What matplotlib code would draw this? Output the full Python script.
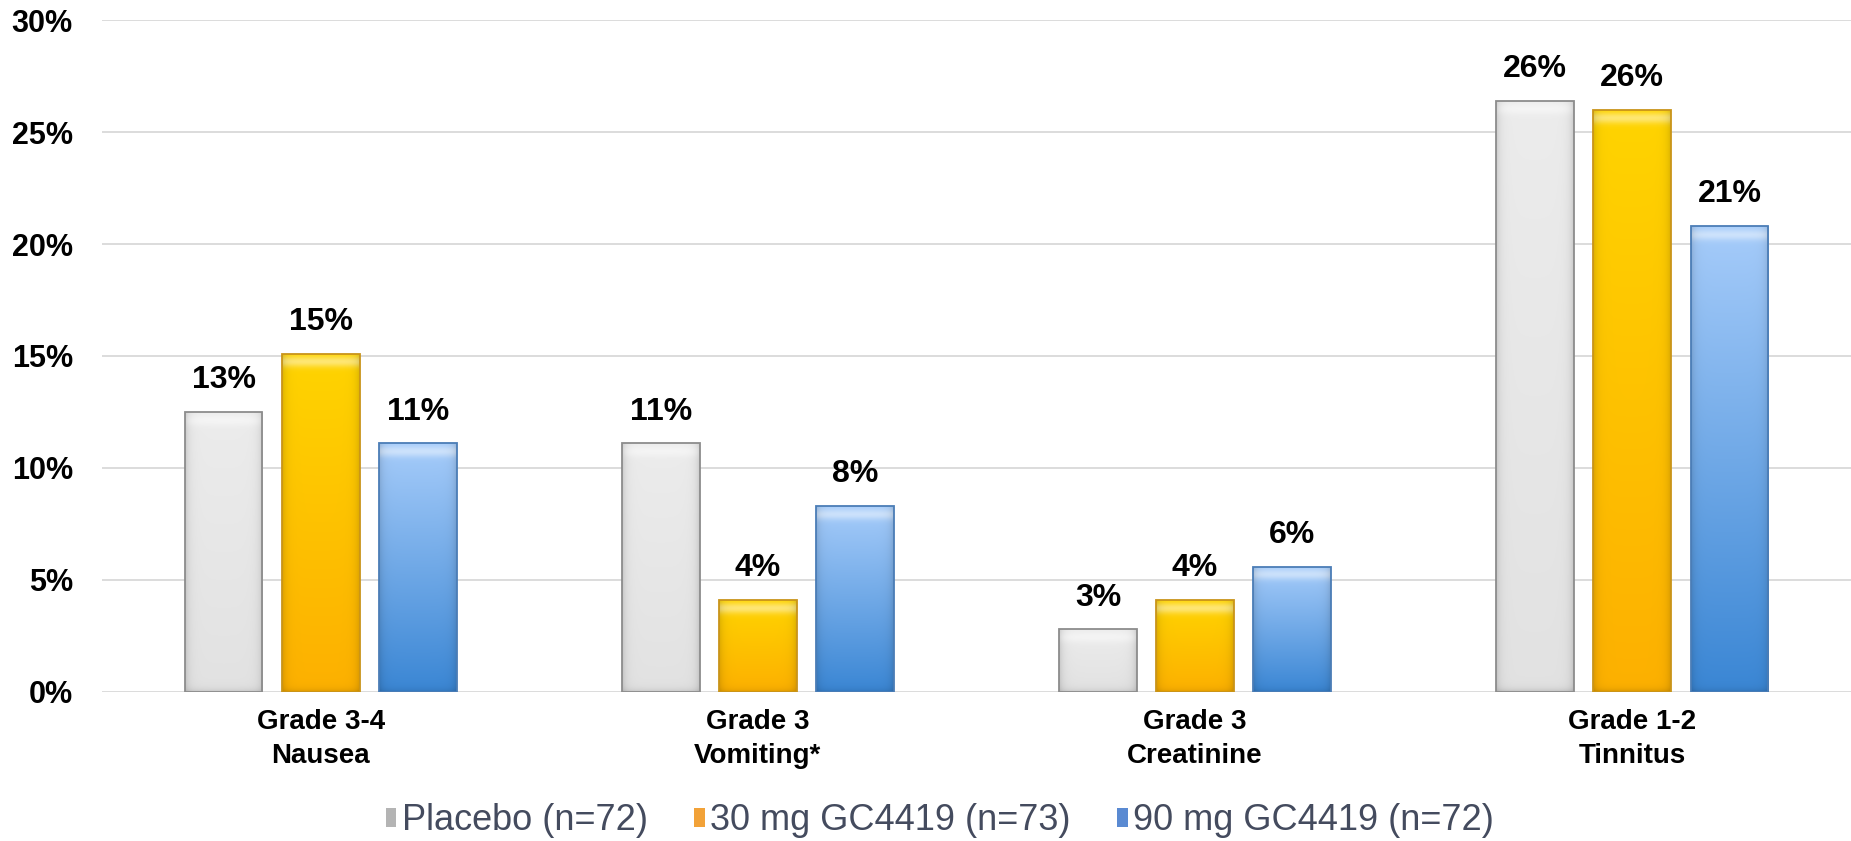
import matplotlib.pyplot as plt
import numpy as np
from matplotlib.patches import Patch
from matplotlib.colors import to_rgb

plt.rcParams['font.family'] = ['Liberation Sans', 'DejaVu Sans']

categories = ['Grade 3-4\nNausea', 'Grade 3\nVomiting*', 'Grade 3\nCreatinine', 'Grade 1-2\nTinnitus']
series_names = ['Placebo (n=72)', '30 mg GC4419 (n=73)', '90 mg GC4419 (n=72)']
placebo = [12.5, 11.1, 2.8, 26.4]
gc_30mg = [15.1, 4.1, 4.1, 26.0]
gc_90mg = [11.1, 8.3, 5.6, 20.8]
y_ticks = [0, 5, 10, 15, 20, 25, 30]

# top colour, bottom colour, outline, legend swatch
styles = [
    ('#ececec', '#e2e2e2', '#8c8c8c', '#b4b4b4'),
    ('#ffd400', '#fdb000', '#c9941a', '#f2a238'),
    ('#a6ccfa', '#3a86d4', '#4b7db6', '#5a8ad2'),
]


def pct_label(v):
    # half-up rounding for the value labels
    return '%d%%' % int(np.floor(v + 0.5))


def shade_bar(ax, bar, top, bottom):
    x, y = bar.get_x(), bar.get_y()
    w, h = bar.get_width(), bar.get_height()
    ny, nx = 300, 80
    t = np.linspace(0, 1, ny)[:, None, None]
    s = np.linspace(0, 1, nx)[None, :, None]
    top = np.array(to_rgb(top))
    bottom = np.array(to_rgb(bottom))
    img = top * (1 - t) + bottom * t
    img = np.broadcast_to(img, (ny, nx, 3)).copy()
    # bevel: soft light band under the top edge, darker sides and bottom
    d_top = t * h * 22.4
    hl = 0.45 * np.exp(-((d_top - 8) / 5.5) ** 2)
    img = img * (1 - hl) + hl
    d_side = np.minimum(s, 1 - s) * 78
    img = img * (1 - 0.14 * np.exp(-d_side / 4.0))
    d_bot = (1 - t) * h * 22.4
    img = img * (1 - 0.12 * np.exp(-d_bot / 3.0))
    im = ax.imshow(np.clip(img, 0, 1), extent=[x, x + w, y, y + h], origin='upper',
                   aspect='auto', zorder=2, interpolation='bilinear')
    im.set_clip_path(bar)


fig = plt.figure(figsize=(18.51, 8.41), dpi=100)
ax = fig.add_axes([0.0551, 0.1772, 0.9449, 0.799])

x = np.arange(len(categories))
width = 0.178
step = 0.222
all_series = [placebo, gc_30mg, gc_90mg]

for i, vals in enumerate(all_series):
    top, bottom, edge, _ = styles[i]
    bars = ax.bar(x + (i - 1) * step, vals, width, color='none', edgecolor=edge,
                  linewidth=1.3, zorder=3)
    for b, v in zip(bars, vals):
        shade_bar(ax, b, top, bottom)
        ax.annotate(pct_label(v), (b.get_x() + b.get_width() / 2, v),
                    xytext=(0, 12), textcoords='offset points', ha='center', va='bottom',
                    fontsize=23, fontweight='bold', color='black', annotation_clip=False)

ax.set_xlim(-0.5, 3.5)
ax.set_ylim(0, 30)
ax.set_yticks(y_ticks)
ax.set_yticklabels(['%d%%' % v for v in y_ticks], fontsize=22, fontweight='bold')
ax.set_xticks(x)
ax.set_xticklabels(categories, fontsize=20, fontweight='bold', linespacing=1.4)
ax.tick_params(axis='y', length=0, pad=21)
ax.tick_params(axis='x', length=0, pad=12)
ax.grid(axis='y', color='#d9d9d9', linewidth=1.3, zorder=0)
ax.set_axisbelow(True)
for sp in ax.spines.values():
    sp.set_visible(False)

handles = [Patch(facecolor=st[3], edgecolor='none') for st in styles]
fig.legend(handles, series_names, loc='center', bbox_to_anchor=(0.5078, 0.024), ncol=3,
           frameon=False, fontsize=26, handlelength=0.28, handleheight=0.4,
           handletextpad=0.15, columnspacing=1.3, labelcolor='#444b5e')

fig.savefig('out.png', dpi=100)
